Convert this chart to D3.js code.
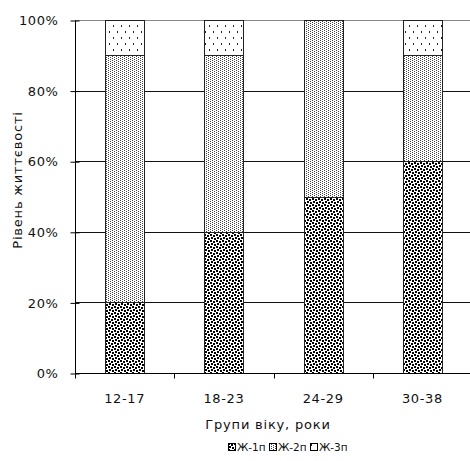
<!DOCTYPE html>
<html><head><meta charset="utf-8">
<script src="https://cdn.jsdelivr.net/npm/d3@7"></script>
<style>body{margin:0;background:#fff}svg{display:block}text{font-family:"DejaVu Sans",sans-serif;fill:#111}</style>
</head><body><svg id="c" width="470" height="461"></svg>
<script>
const categories = ["12-17","18-23","24-29","30-38"];
const seriesNames = ["Ж-1п","Ж-2п","Ж-3п"];
const zh1 = [20,40,50,60];
const zh2 = [70,50,50,30];
const zh3 = [10,10,0,10];
const yTicks = [0,20,40,60,80,100];
const xTitle = "Групи віку, роки";
const yTitle = "Рівень життєвості";

const svg = d3.select("#c");
const defs = svg.append("defs");
function pat(id,w,h,dots,col){
  const p = defs.append("pattern").attr("id",id).attr("patternUnits","userSpaceOnUse").attr("width",w).attr("height",h);
  p.append("rect").attr("width",w).attr("height",h).attr("fill","#fff");
  dots.forEach(d=>p.append("rect").attr("x",d[0]).attr("y",d[1]).attr("width",d[2]).attr("height",d[3]).attr("fill",col));
}
pat("p0",6,6,[[0,0,2,2],[3,1,2,2],[1,3,2,2],[4,4,2,2]],"#000");
pat("p1",4,2,[[0,0,1,1],[2,1,1,1]],"#444");
pat("p2",8,12,[[1,1,1,2],[5,7,1,2]],"#222");

const x0 = 75, x1 = 472, yTop = 20, yBot = 373;
const x = d3.scaleBand().domain(categories).range([x0, x1]).paddingInner(0).paddingOuter(0);
const y = d3.scaleLinear().domain([0,100]).range([yBot, yTop]);

// gridlines
svg.append("g").selectAll("line").data(yTicks.filter(t=>t>0)).join("line")
  .attr("x1",x0).attr("x2",470).attr("y1",d=>Math.round(y(d))+0.5).attr("y2",d=>Math.round(y(d))+0.5)
  .attr("stroke",d=>d===100?"#888":"#111").attr("stroke-width",1);

// stacked data
const rows = categories.map((c,i)=>({cat:c,"Ж-1п":zh1[i],"Ж-2п":zh2[i],"Ж-3п":zh3[i]}));
const stack = d3.stack().keys(seriesNames)(rows);
const bw = 39;
stack.forEach((s,si)=>{
  svg.append("g").selectAll("rect").data(s.filter(d=>d[1]-d[0]>0)).join("rect")
    .attr("x",d=>Math.round(x(d.data.cat)+x.bandwidth()/2-bw/2)+0.5)
    .attr("width",bw)
    .attr("y",d=>Math.round(y(d[1]))+0.5)
    .attr("height",d=>Math.round(y(d[0]))-Math.round(y(d[1])))
    .attr("fill","url(#p"+si+")").attr("stroke","#222").attr("stroke-width",1);
});

// y axis
const ya = d3.axisLeft(y).tickValues(yTicks).tickFormat(d=>d+"%").tickSize(4).tickPadding(13);
const gy = svg.append("g").attr("transform",`translate(${x0+0.5},0.5)`).call(ya);
gy.selectAll("text").style("font-size","13px").style("font-family","DejaVu Sans").style("letter-spacing","0.6px");
gy.selectAll("line,path").attr("stroke","#000");
gy.select(".domain").attr("d",`M0,${yTop}V${yBot}`);
gy.selectAll(".tick line").attr("x1",-5).attr("x2",4);

// x axis
const xa = d3.axisBottom(x).tickSize(0).tickPadding(20);
const gx = svg.append("g").attr("transform",`translate(0,${yBot+0.5})`).call(xa);
gx.select(".domain").remove();
gx.append("line").attr("x1",x0).attr("x2",470).attr("y1",0).attr("y2",0).attr("stroke","#000");
gx.selectAll(".tick text").style("font-size","13px").style("font-family","DejaVu Sans").style("letter-spacing","0.6px");
gx.selectAll(null).data(categories.concat(["_end"])).join("line")
  .attr("x1",(d,i)=>Math.round(x0+i*x.bandwidth())+0.5).attr("x2",(d,i)=>Math.round(x0+i*x.bandwidth())+0.5)
  .attr("y1",0).attr("y2",5).attr("stroke","#000");

// titles
svg.append("text").attr("x",268).attr("y",429).attr("text-anchor","middle").style("font-size","13px").style("letter-spacing","0.8px").text(xTitle);
svg.append("text").attr("transform","translate(22,180) rotate(-90)").attr("text-anchor","middle").style("font-size","13px").style("letter-spacing","0.8px").text(yTitle);

// legend
const leg = svg.append("g").attr("transform","translate(228,443)");
let lx = 0;
seriesNames.forEach((n,i)=>{
  const g = leg.append("g").attr("transform",`translate(${lx},0)`);
  g.append("rect").attr("x",0.5).attr("y",0.5).attr("width",7).attr("height",7).attr("fill",`url(#p${i})`).attr("stroke","#000");
  g.append("text").attr("x",9).attr("y",8).style("font-size","10.5px").text(n);
  lx += 41;
});
</script></body></html>
